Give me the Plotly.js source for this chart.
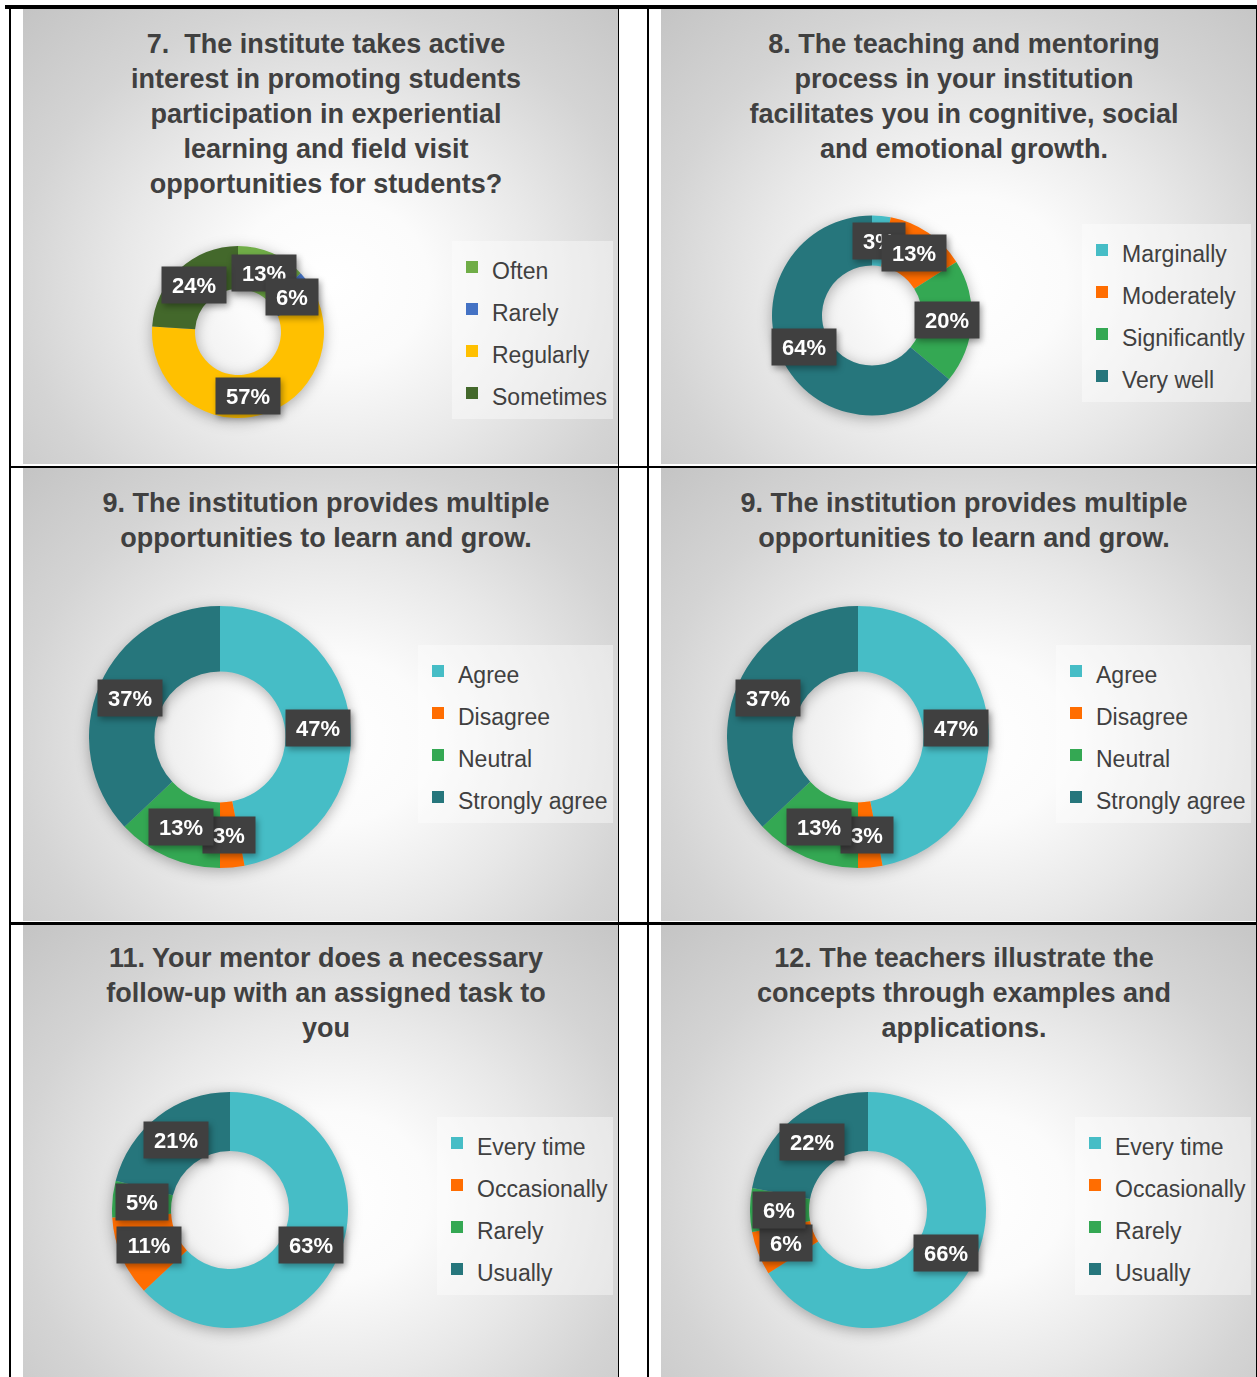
<!DOCTYPE html>
<html>
<head>
<meta charset="utf-8">
<script src="https://cdn.plot.ly/plotly-3.0.1.min.js"></script>
<style>
html, body { margin:0; padding:0; background:#ffffff; width:1257px; height:1377px; overflow:hidden; }
body { position:relative; font-family:'Liberation Sans', Arial, sans-serif; }
.line { position:absolute; background:#000000; }
.cell { position:absolute;
  background: radial-gradient(ellipse farthest-corner at 52% 60%, #ffffff 0%, #fbfbfb 22%, #e8e8e8 48%, #d4d4d4 72%, #c4c4c4 100%); }
.cell .pielayer { filter: drop-shadow(0px 3px 7px rgba(0,0,0,0.30)); }
.cell .annotation { filter: drop-shadow(2px 3px 3px rgba(0,0,0,0.35)); }
</style>
</head>
<body>
<div class="line" style="left:5px; top:5px; width:1252px; height:4px;"></div>
<div class="line" style="left:9px; top:5px; width:2px; height:1372px;"></div>
<div class="line" style="left:618px; top:5px; width:1px; height:1372px;"></div>
<div class="line" style="left:647px; top:5px; width:2px; height:1372px;"></div>
<div class="line" style="left:1256px; top:5px; width:1px; height:1372px;"></div>
<div class="line" style="left:9px; top:466px; width:1248px; height:2px;"></div>
<div class="line" style="left:9px; top:922px; width:1248px; height:3px;"></div>

<div id="c1" class="cell" style="left:23px; top:9px; width:595px; height:455px;"></div>
<div id="c2" class="cell" style="left:661px; top:9px; width:595px; height:455px;"></div>
<div id="c3" class="cell" style="left:23px; top:468px; width:595px; height:453px;"></div>
<div id="c4" class="cell" style="left:661px; top:468px; width:595px; height:453px;"></div>
<div id="c5" class="cell" style="left:23px; top:925px; width:595px; height:452px;"></div>
<div id="c6" class="cell" style="left:661px; top:925px; width:595px; height:452px;"></div>

<script>
// ---------- DATA ----------
const q7Title = ['7.  The institute takes active', 'interest in promoting students', 'participation in experiential', 'learning and field visit', 'opportunities for students?'];
const q7Categories = ['Often', 'Rarely', 'Regularly', 'Sometimes'];
const q7Values = [13, 6, 57, 24];

const q8Title = ['8. The teaching and mentoring', 'process in your institution', 'facilitates you in cognitive, social', 'and emotional growth.'];
const q8Categories = ['Marginally', 'Moderately', 'Significantly', 'Very well'];
const q8Values = [3, 13, 20, 64];

const q9Title = ['9. The institution provides multiple', 'opportunities to learn and grow.'];
const q9Categories = ['Agree', 'Disagree', 'Neutral', 'Strongly agree'];
const q9Values = [47, 3, 13, 37];

const q11Title = ['11. Your mentor does a necessary', 'follow-up with an assigned task to', 'you'];
const q11Categories = ['Every time', 'Occasionally', 'Rarely', 'Usually'];
const q11Values = [63, 11, 5, 21];

const q12Title = ['12. The teachers illustrate the', 'concepts through examples and', 'applications.'];
const q12Categories = ['Every time', 'Occasionally', 'Rarely', 'Usually'];
const q12Values = [66, 6, 6, 22];

// ---------- STYLES ----------
const colorsQ7 = ['#70AD47', '#4472C4', '#FFC000', '#43682B'];
const colorsTeal = ['#46BDC6', '#FF6D01', '#34A853', '#26767C'];
const FONT = 'Liberation Sans, Arial, sans-serif';

const charts = [
  {id:'c1', title:q7Title, cats:q7Categories, vals:q7Values, colors:colorsQ7, W:595, H:455, cx:215, cy:323, R:86, legendTop:232, titleTop:44},
  {id:'c2', title:q8Title, cats:q8Categories, vals:q8Values, colors:colorsTeal, W:595, H:455, cx:211, cy:306.5, R:100, legendTop:215, titleTop:44},
  {id:'c3', title:q9Title, cats:q9Categories, vals:q9Values, colors:colorsTeal, W:595, H:453, cx:197, cy:269, R:131, legendTop:177, titleTop:44},
  {id:'c4', title:q9Title, cats:q9Categories, vals:q9Values, colors:colorsTeal, W:595, H:453, cx:197, cy:269, R:131, legendTop:177, titleTop:44},
  {id:'c5', title:q11Title, cats:q11Categories, vals:q11Values, colors:colorsTeal, W:595, H:452, cx:207, cy:285, R:118, legendTop:192, titleTop:41.5},
  {id:'c6', title:q12Title, cats:q12Categories, vals:q12Values, colors:colorsTeal, W:595, H:452, cx:207, cy:285, R:118, legendTop:192, titleTop:41.5}
];

charts.forEach(function(c) {
  const total = c.vals.reduce(function(a, b){ return a + b; }, 0);
  const trace = {
    type: 'pie',
    labels: c.cats.map(function(s){ return '<span style="font-size:23px">' + s + '</span>'; }),
    values: c.vals,
    hole: 0.5,
    sort: false,
    direction: 'clockwise',
    rotation: 0,
    textinfo: 'none',
    hoverinfo: 'label+percent',
    marker: { colors: c.colors, line: { width: 0 } },
    domain: {
      x: [(c.cx - c.R) / c.W, (c.cx + c.R) / c.W],
      y: [1 - (c.cy + c.R) / c.H, 1 - (c.cy - c.R) / c.H]
    }
  };

  // data labels on the middle of the ring, at each slice's middle angle
  const annotations = [];
  let cum = 0;
  c.vals.forEach(function(v) {
    const mid = (cum + v / 2) / total * 2 * Math.PI;
    cum += v;
    const rr = 0.75 * c.R;
    const px = c.cx + rr * Math.sin(mid);
    const py = c.cy - rr * Math.cos(mid);
    const txt = Math.round(v / total * 100) + '%';
    annotations.push({
      xref: 'paper', yref: 'paper',
      x: px / c.W, y: 1 - py / c.H,
      xanchor: 'center', yanchor: 'middle',
      text: txt,
      showarrow: false,
      font: { family: FONT, size: 22, color: '#ffffff', weight: 'bold' },
      bgcolor: '#404040',
      borderpad: 4,
      width: 12 * txt.length + 20,
      height: 28
    });
  });

  const layout = {
    width: c.W, height: c.H,
    margin: { l: 0, r: 0, t: 0, b: 0 },
    paper_bgcolor: 'rgba(0,0,0,0)',
    plot_bgcolor: 'rgba(0,0,0,0)',
    title: {
      text: c.title.join('<br>'),
      font: { family: FONT, size: 27, color: '#404040', weight: 'bold' },
      x: 303 / c.W, xanchor: 'center', xref: 'container',
      y: 1 - c.titleTop / c.H, yanchor: 'top', yref: 'container'
    },
    showlegend: true,
    legend: {
      x: 590 / c.W, xanchor: 'right',
      y: 1 - c.legendTop / c.H, yanchor: 'top',
      bgcolor: 'rgba(255,255,255,0.4)',
      borderwidth: 0,
      font: { family: FONT, size: 30, color: '#404040' },
      traceorder: 'normal'
    },
    annotations: annotations
  };

  Plotly.newPlot(c.id, [trace], layout, { displayModeBar: false, staticPlot: true });
});
</script>
</body>
</html>
